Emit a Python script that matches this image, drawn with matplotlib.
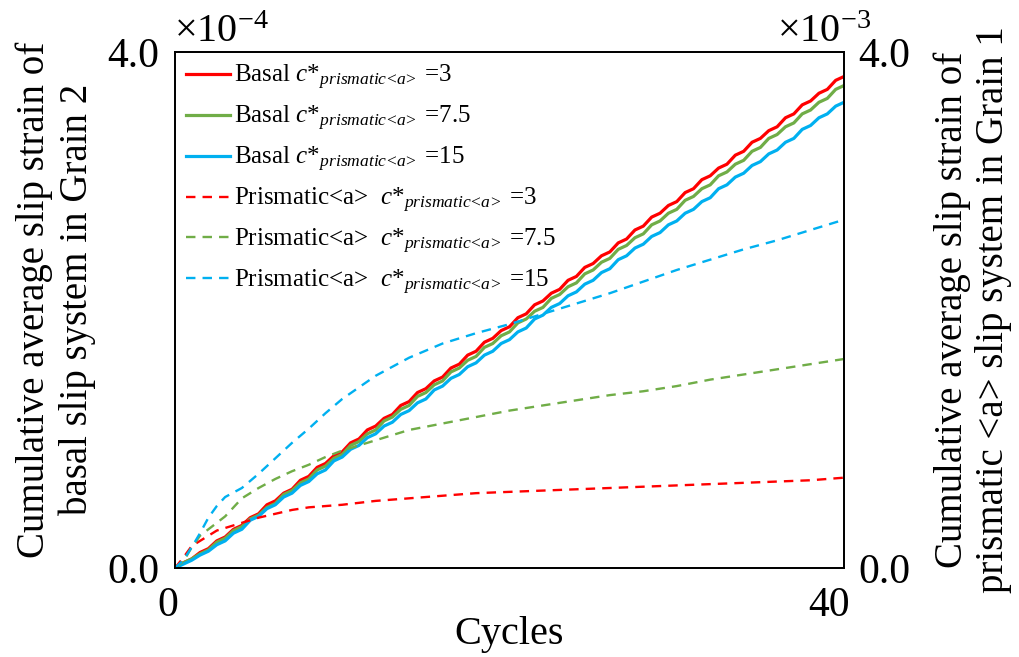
import matplotlib
matplotlib.use("Agg")
import matplotlib.pyplot as plt
import matplotlib.transforms as mtransforms
import numpy as np

plt.rcParams['font.family'] = ['Liberation Serif', 'DejaVu Serif']
plt.rcParams['mathtext.fontset'] = 'custom'
plt.rcParams['mathtext.rm'] = 'Liberation Serif'
plt.rcParams['mathtext.it'] = 'Liberation Serif:italic'

# basal slip strain (x1e-4), value at end of each cycle 0..40 and at mid-cycle 0.5..39.5
basal_red_end = [0.00, 0.07, 0.15, 0.24, 0.33, 0.42, 0.52, 0.61, 0.71, 0.81, 0.90,
                 1.00, 1.10, 1.19, 1.29, 1.39, 1.48, 1.58, 1.68, 1.78, 1.87,
                 1.97, 2.07, 2.16, 2.26, 2.36, 2.45, 2.55, 2.65, 2.75, 2.84,
                 2.94, 3.04, 3.13, 3.23, 3.33, 3.42, 3.52, 3.62, 3.71, 3.81]
basal_red_mid = [0.04, 0.12, 0.21, 0.30, 0.39, 0.49, 0.58, 0.68, 0.78, 0.87,
                 0.97, 1.07, 1.16, 1.26, 1.36, 1.45, 1.55, 1.65, 1.75, 1.84,
                 1.94, 2.04, 2.13, 2.23, 2.33, 2.42, 2.52, 2.62, 2.72, 2.81,
                 2.91, 3.01, 3.10, 3.20, 3.30, 3.39, 3.49, 3.59, 3.68, 3.78]
basal_green_end = [0.00, 0.07, 0.14, 0.23, 0.32, 0.41, 0.50, 0.60, 0.69, 0.79, 0.88,
                   0.98, 1.07, 1.17, 1.26, 1.36, 1.45, 1.55, 1.64, 1.74, 1.83,
                   1.93, 2.02, 2.12, 2.21, 2.31, 2.40, 2.50, 2.59, 2.69, 2.78,
                   2.88, 2.97, 3.07, 3.16, 3.26, 3.36, 3.45, 3.55, 3.64, 3.74]
basal_green_mid = [0.04, 0.11, 0.20, 0.29, 0.38, 0.47, 0.57, 0.66, 0.76, 0.85,
                   0.95, 1.04, 1.14, 1.23, 1.33, 1.42, 1.52, 1.61, 1.71, 1.80,
                   1.90, 1.99, 2.09, 2.18, 2.28, 2.37, 2.47, 2.56, 2.66, 2.75,
                   2.85, 2.94, 3.04, 3.13, 3.23, 3.33, 3.42, 3.52, 3.61, 3.71]
basal_blue_end = [0.00, 0.06, 0.13, 0.21, 0.30, 0.40, 0.49, 0.58, 0.67, 0.76, 0.86,
                  0.95, 1.04, 1.13, 1.22, 1.31, 1.41, 1.50, 1.59, 1.68, 1.77,
                  1.86, 1.96, 2.05, 2.14, 2.23, 2.32, 2.42, 2.51, 2.60, 2.69,
                  2.78, 2.87, 2.97, 3.06, 3.15, 3.24, 3.33, 3.43, 3.52, 3.61]
basal_blue_mid = [0.03, 0.10, 0.18, 0.27, 0.37, 0.46, 0.55, 0.64, 0.73, 0.83,
                  0.92, 1.01, 1.10, 1.19, 1.28, 1.38, 1.47, 1.56, 1.65, 1.74,
                  1.83, 1.93, 2.02, 2.11, 2.20, 2.29, 2.39, 2.48, 2.57, 2.66,
                  2.75, 2.84, 2.94, 3.03, 3.12, 3.21, 3.30, 3.40, 3.49, 3.58]

# prismatic <a> slip strain (x1e-3)
pri_cycles = [0, 0.5, 1, 1.5, 2, 2.5, 3, 4, 5, 6, 7, 8, 9, 10, 12, 14, 16, 18, 20,
              22, 24, 26, 28, 30, 32, 34, 36, 38, 40]
pri_red = [0.00, 0.08, 0.17, 0.21, 0.25, 0.29, 0.31, 0.35, 0.39, 0.42, 0.45, 0.47,
           0.48, 0.49, 0.52, 0.54, 0.56, 0.58, 0.59, 0.60, 0.61, 0.62, 0.63, 0.64,
           0.65, 0.66, 0.67, 0.68, 0.70]
pri_green = [0.00, 0.05, 0.16, 0.25, 0.30, 0.35, 0.40, 0.54, 0.62, 0.69, 0.75, 0.80,
             0.86, 0.91, 0.99, 1.07, 1.12, 1.17, 1.22, 1.26, 1.30, 1.34, 1.37, 1.41,
             1.46, 1.50, 1.54, 1.58, 1.62]
pri_blue = [0.00, 0.06, 0.16, 0.27, 0.39, 0.48, 0.55, 0.62, 0.73, 0.85, 0.97, 1.08,
            1.20, 1.31, 1.49, 1.63, 1.74, 1.82, 1.89, 1.97, 2.05, 2.13, 2.22, 2.31,
            2.39, 2.47, 2.54, 2.62, 2.70]

c_values = ['3', '7.5', '15']
colors = ['#FF0000', '#70AD47', '#00B0F0']


def zigzag(end, mid):
    x, y = [], []
    for n in range(len(mid)):
        x += [n, n + 0.5]
        y += [end[n], mid[n]]
    x.append(len(mid))
    y.append(end[-1])
    return np.array(x), np.array(y)


sub = r'$c$*$_{prismatic\!<\!a\!>}$'

fig = plt.figure(figsize=(10.19, 6.57), dpi=100)
ax = fig.add_axes([0.1717, 0.1355, 0.6566, 0.7854])
ax2 = ax.twinx()

handles = []
for end, mid, col, c in zip([basal_red_end, basal_green_end, basal_blue_end],
                            [basal_red_mid, basal_green_mid, basal_blue_mid],
                            colors, c_values):
    x, y = zigzag(end, mid)
    h, = ax.plot(x, y, color=col, lw=2.3, label='Basal ' + sub + ' =' + c)
    handles.append(h)

for vals, col, c in zip([pri_red, pri_green, pri_blue], colors, c_values):
    h, = ax2.plot(pri_cycles, vals, color=col, lw=1.7, ls=(0, (4, 3)),
                  label='Prismatic<a>  ' + sub + ' =' + c)
    handles.append(h)

ax.set_xlim(0, 40)
ax.set_ylim(0, 4)
ax2.set_ylim(0, 4)
ax.set_xticks([0, 40])
ax.set_yticks([0, 4])
ax.set_yticklabels(['0.0', '4.0'])
ax2.set_yticks([0, 4])
ax2.set_yticklabels(['0.0', '4.0'])
ax.tick_params(length=0, labelsize=30, pad=11)
ax2.tick_params(length=0, labelsize=30, pad=10)
ax.tick_params(axis='x', pad=13)
for lab, dx in zip(ax.get_xticklabels(), [-7, -15]):
    shift = mtransforms.ScaledTranslation(dx / 100, 0, fig.dpi_scale_trans)
    lab.set_transform(lab.get_transform() + shift)
for a in (ax, ax2):
    for s in a.spines.values():
        s.set_linewidth(1.3)

ax.set_xlabel('Cycles', fontsize=29, labelpad=-6)
ax.set_ylabel('Cumulative average slip strain of\nbasal slip system in Grain 2',
              fontsize=28, labelpad=8, linespacing=1.2)
ax.yaxis.label.set_y(0.52)
ax2.set_ylabel('Cumulative average slip strain of\nprismatic <a> slip system in Grain 1',
               fontsize=28, labelpad=17, linespacing=1.15, rotation=90)

fig.text(0.171, 0.95, r'$\times$10$^{-4}$', fontsize=29, va='center')
fig.text(0.763, 0.95, r'$\times$10$^{-3}$', fontsize=29, va='center')

ax.legend(handles=handles, loc='upper left', frameon=False, fontsize=18,
          handlelength=1.75, handletextpad=0.15, labelspacing=0.47,
          borderaxespad=0.1, borderpad=0.35)

fig.savefig('out.png', dpi=100)
